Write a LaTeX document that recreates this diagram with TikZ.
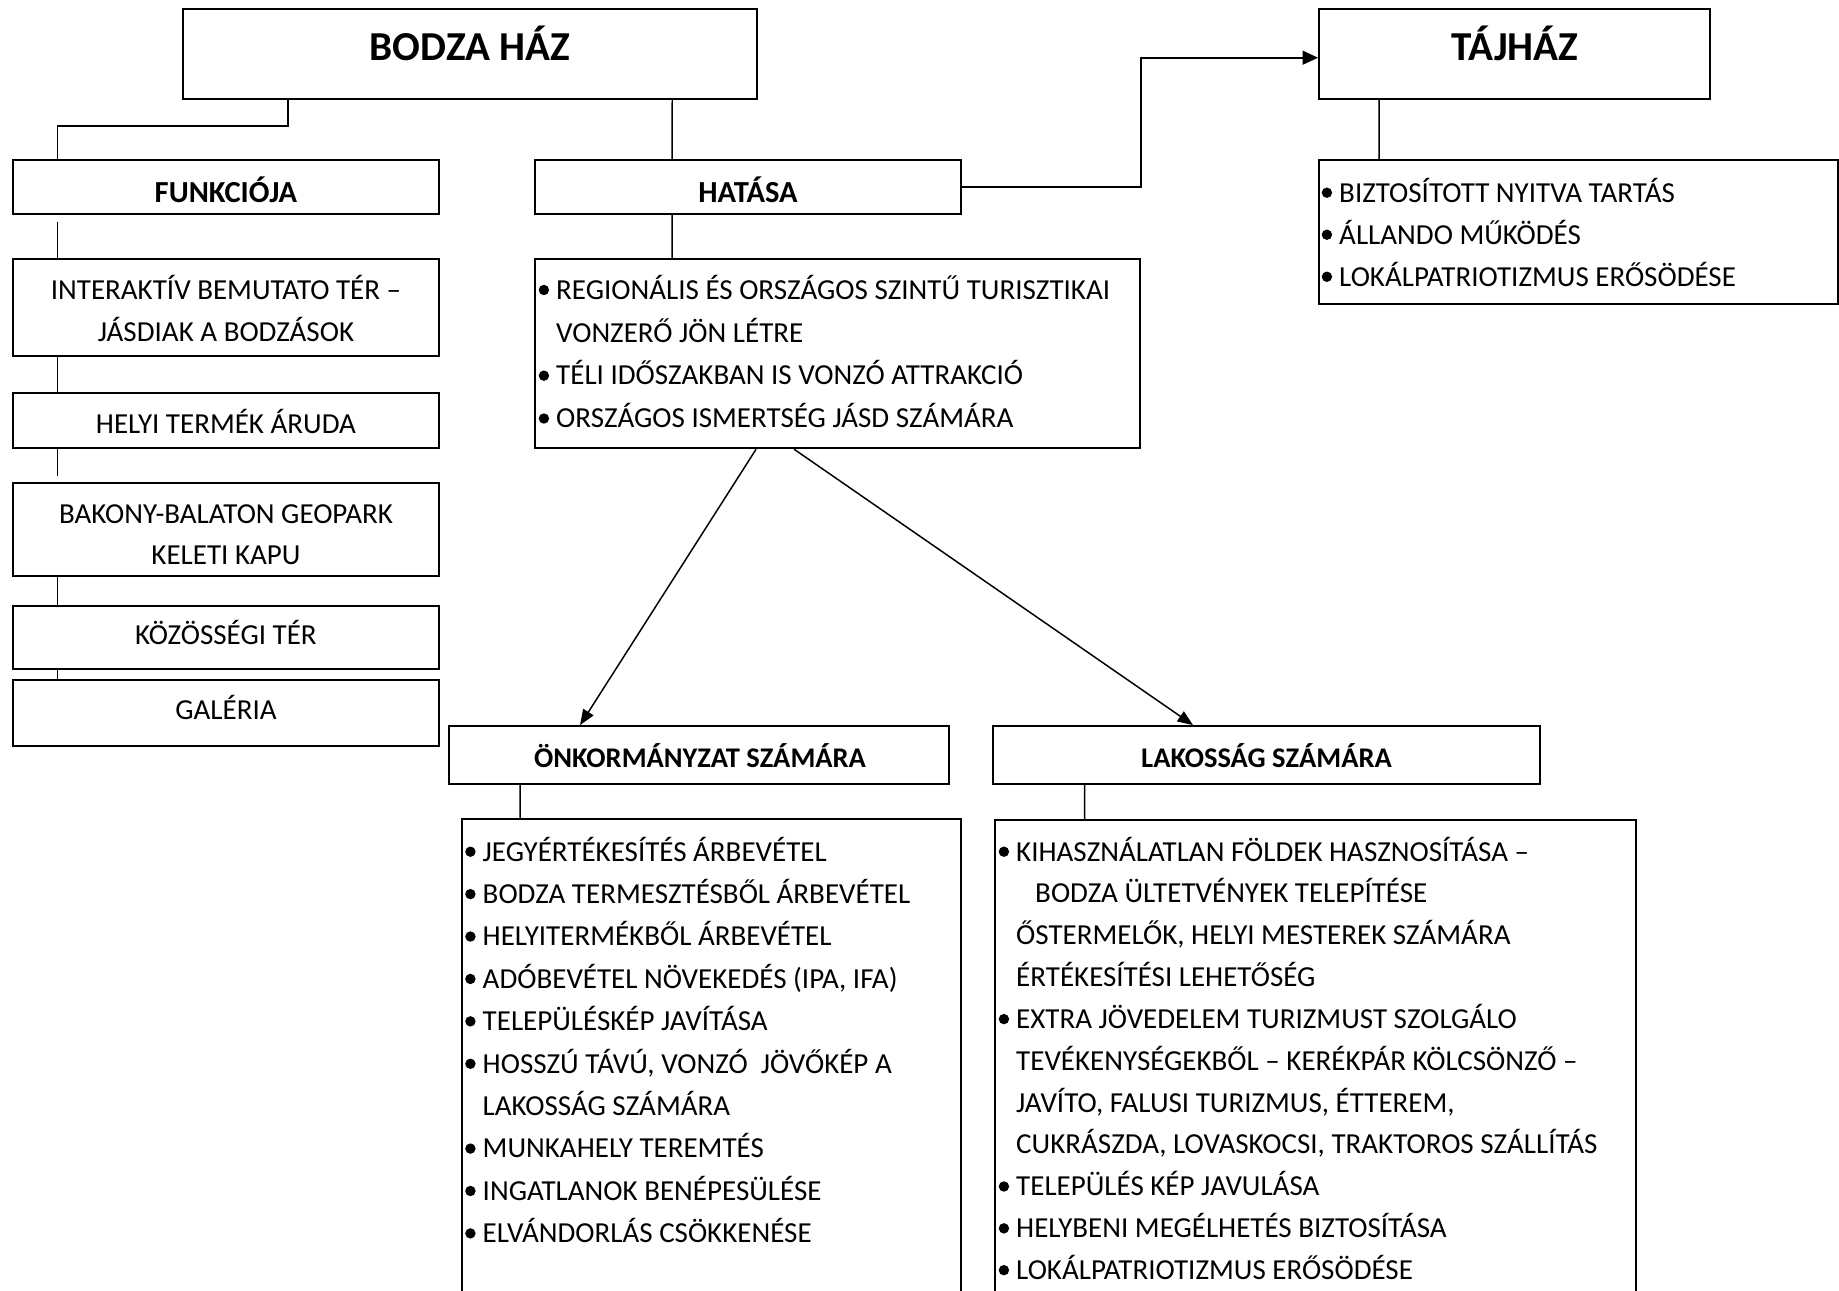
\documentclass[tikz,border=0pt]{standalone}
\usepackage{fontspec}
\setmainfont{Carlito}
\usetikzlibrary{arrows.meta,calc}
\newcommand{\bl}{\makebox[0.175cm][l]{\tikz[baseline=0pt]\fill (0.052cm,0.093cm) circle (0.052cm);}}
\newcommand{\ind}{\hspace*{0.175cm}}
\begin{document}
\begin{tikzpicture}[x=0.01cm,y=-0.01cm,
  box/.style={draw,line width=0.5pt,inner sep=0pt,rectangle},
  conn/.style={line width=0.42pt},
  arr/.style={line width=0.48pt,-{Triangle[length=0.155cm,width=0.14cm]}},
  arrtwo/.style={line width=0.42pt,-{Triangle[length=0.155cm,width=0.12cm]}},
  ttl/.style={inner sep=0pt,font=\fontsize{11.7}{14}\selectfont\bfseries},
  hdr/.style={inner sep=0pt,font=\fontsize{8.7}{11}\selectfont\bfseries},
  hdrtwo/.style={inner sep=0pt,font=\fontsize{8.1}{11}\selectfont\bfseries},
  txt/.style={inner sep=0pt,font=\fontsize{8.25}{#1}\selectfont},
  txt/.default=12.06pt]
\useasboundingbox (0,0) rectangle (1839,1290);
\fill[white] (0,0) rectangle (1839,1290);
\clip (0,0) rectangle (1839,1290);

% boxes
\node[box,minimum width=5.74cm,minimum height=0.90cm] (bodza) at (470,54.3) {};
\node[box,minimum width=3.91cm,minimum height=0.90cm] (tajhaz) at (1514.5,54.3) {};
\node[box,minimum width=4.26cm,minimum height=0.543cm] (funk) at (226,187.15) {};
\node[box,minimum width=4.26cm,minimum height=0.543cm] (hatasa) at (748,187.15) {};
\node[box,minimum width=5.19cm,minimum height=1.44cm] (tajlist) at (1578.5,232) {};
\node[box,minimum width=4.26cm,minimum height=0.964cm] (inter) at (226,307.5) {};
\node[box,minimum width=4.26cm,minimum height=0.544cm] (helyi) at (226,420.5) {};
\node[box,minimum width=4.26cm,minimum height=0.927cm] (bakony) at (226,529.65) {};
\node[box,minimum width=4.26cm,minimum height=0.636cm] (kozos) at (226,637.5) {};
\node[box,minimum width=4.26cm,minimum height=0.66cm] (galeria) at (226,713) {};
\node[box,minimum width=6.05cm,minimum height=1.89cm] (hatlist) at (837.5,353.8) {};
\node[box,minimum width=4.995cm,minimum height=0.583cm] (onk) at (699.25,755.15) {};
\node[box,minimum width=5.47cm,minimum height=0.583cm] (lak) at (1266.5,755.15) {};
\node[box,minimum width=4.99cm,minimum height=5.0cm] (onklist) at (711.5,1069.3) {};
\node[box,minimum width=6.41cm,minimum height=5.0cm] (laklist) at (1315.5,1070) {};

% texts
\node[ttl,anchor=base] (bodzaT) at (470,60) {BODZA HÁZ};
\node[ttl,anchor=base] (tajhazT) at (1515,60) {TÁJHÁZ};
\node[hdr,anchor=base] (funkT) at (226,202) {FUNKCIÓJA};
\node[hdr,anchor=base] (hatasaT) at (748,202) {HATÁSA};
\node[hdrtwo,anchor=base] (onkT) at (700,767.2) {ÖNKORMÁNYZAT SZÁMÁRA};
\node[hdrtwo,anchor=base] (lakT) at (1266.5,767.2) {LAKOSSÁG SZÁMÁRA};
\node[txt=11.86pt,anchor=base] (interT) at (226,299.3) {\begin{tabular}[t]{@{}c@{}}INTERAKTÍV BEMUTATO TÉR –\\ JÁSDIAK A BODZÁSOK\end{tabular}};
\node[txt,anchor=base] (helyiT) at (226,433.3) {HELYI TERMÉK ÁRUDA};
\node[txt=11.66pt,anchor=base] (bakonyT) at (226,523.3) {\begin{tabular}[t]{@{}c@{}}BAKONY-BALATON GEOPARK\\ KELETI KAPU\end{tabular}};
\node[txt,anchor=base] (kozosT) at (226,644.3) {KÖZÖSSÉGI TÉR};
\node[txt,anchor=base] (galeriaT) at (226,719.3) {GALÉRIA};

\node[txt=11.95pt,anchor=base west] (tajlistT) at (1321,202) {\begin{tabular}[t]{@{}l@{}}
\bl BIZTOSÍTOTT NYITVA TARTÁS\\
\bl ÁLLANDO MŰKÖDÉS\\
\bl LOKÁLPATRIOTIZMUS ERŐSÖDÉSE\end{tabular}};

\node[txt=12.18pt,anchor=base west] (hatlistT) at (538,299.3) {\begin{tabular}[t]{@{}l@{}}
\bl REGIONÁLIS ÉS ORSZÁGOS SZINTŰ TURISZTIKAI\\
\ind VONZERŐ JÖN LÉTRE\\
\bl TÉLI IDŐSZAKBAN IS VONZÓ ATTRAKCIÓ\\
\bl ORSZÁGOS ISMERTSÉG JÁSD SZÁMÁRA\end{tabular}};

\node[txt=12.06pt,anchor=base west] (onklistT) at (464.5,861) {\begin{tabular}[t]{@{}l@{}}
\bl JEGYÉRTÉKESÍTÉS ÁRBEVÉTEL\\
\bl BODZA TERMESZTÉSBŐL ÁRBEVÉTEL\\
\bl HELYITERMÉKBŐL ÁRBEVÉTEL\\
\bl ADÓBEVÉTEL NÖVEKEDÉS (IPA, IFA)\\
\bl TELEPÜLÉSKÉP JAVÍTÁSA\\
\bl HOSSZÚ TÁVÚ, VONZÓ~ JÖVŐKÉP A\\
\ind LAKOSSÁG SZÁMÁRA\\
\bl MUNKAHELY TEREMTÉS\\
\bl INGATLANOK BENÉPESÜLÉSE\\
\bl ELVÁNDORLÁS CSÖKKENÉSE\end{tabular}};

\node[txt=11.9pt,anchor=base west] (laklistT) at (998,861) {\begin{tabular}[t]{@{}l@{}}
\bl KIHASZNÁLATLAN FÖLDEK HASZNOSÍTÁSA –\\
\hspace*{0.365cm}BODZA ÜLTETVÉNYEK TELEPÍTÉSE\\
\ind ŐSTERMELŐK, HELYI MESTEREK SZÁMÁRA\\
\ind ÉRTÉKESÍTÉSI LEHETŐSÉG\\
\bl EXTRA JÖVEDELEM TURIZMUST SZOLGÁLO\\
\ind TEVÉKENYSÉGEKBŐL – KERÉKPÁR KÖLCSÖNZŐ –\\
\ind JAVÍTO, FALUSI TURIZMUS, ÉTTEREM,\\
\ind CUKRÁSZDA, LOVASKOCSI, TRAKTOROS SZÁLLÍTÁS\\
\bl TELEPÜLÉS KÉP JAVULÁSA\\
\bl HELYBENI MEGÉLHETÉS BIZTOSÍTÁSA\\
\bl LOKÁLPATRIOTIZMUS ERŐSÖDÉSE\end{tabular}};

% connectors
\draw[conn] ([xshift=1.06cm]bodza.south west) -- ++(0,25.7) -| ([xshift=0.457cm]funk.north west);
\draw[conn] ([xshift=4.90cm]bodza.south west) -- ([xshift=1.38cm]hatasa.north west);
\draw[arr] (hatasa.east) -- ++(179,0) |- ([yshift=-0.034cm]tajhaz.west);
\draw[conn] ([xshift=0.61cm]tajhaz.south west) -- ([xshift=0.61cm]tajlist.north west);
\draw[conn,shorten <=0.07cm] ([xshift=0.457cm]funk.south west) -- ([xshift=0.457cm]inter.north west);
\draw[conn] ([xshift=0.457cm]inter.south west) -- ([xshift=0.457cm]helyi.north west);
\draw[conn,shorten >=0.066cm] ([xshift=0.457cm]helyi.south west) -- ([xshift=0.457cm]bakony.north west);
\draw[conn] ([xshift=0.457cm]bakony.south west) -- ([xshift=0.457cm]kozos.north west);
\draw[conn] ([xshift=0.457cm]kozos.south west) -- ([xshift=0.457cm]galeria.north west);
\draw[conn] ([xshift=1.38cm]hatasa.south west) -- ([xshift=1.38cm]hatlist.north west);
\draw[arrtwo] ([xshift=2.22cm]hatlist.south west) -- ([xshift=1.315cm]onk.north west);
\draw[arrtwo] ([xshift=2.60cm]hatlist.south west) -- ([xshift=2.01cm]lak.north west);
\draw[conn] ([xshift=0.715cm]onk.south west) -- ([xshift=0.59cm]onklist.north west);
\draw[conn] ([xshift=0.927cm]lak.south west) -- ([xshift=0.907cm]laklist.north west);
\end{tikzpicture}
\end{document}
